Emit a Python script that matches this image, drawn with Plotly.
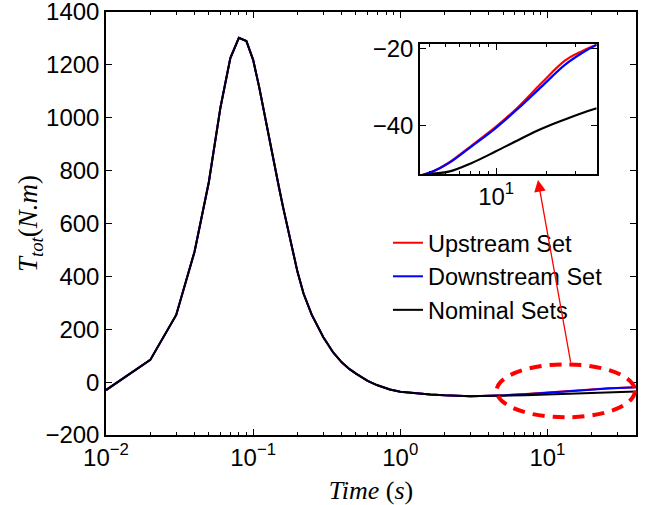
import plotly.graph_objects as go

# Total torque response shared by all three parameter sets (s, N.m)
time_common = [0.01, 0.02, 0.03, 0.04, 0.05, 0.06, 0.07, 0.08, 0.09, 0.10,
               0.11, 0.12, 0.13, 0.14, 0.15, 0.16, 0.17, 0.18, 0.19, 0.20,
               0.22, 0.25, 0.30, 0.35, 0.40, 0.45, 0.50, 0.60, 0.70, 0.85,
               1.0, 1.3, 1.6, 2.0, 2.5, 3.0, 3.5]
torque_common = [-30, 84, 254, 494, 757, 1040, 1226, 1302, 1290, 1219,
                 1115, 1005, 905, 815, 735, 660, 592, 528, 470, 418,
                 335, 255, 170, 112, 75, 50, 32, 5, -12, -28,
                 -36, -43, -47, -50, -52.3, -53.2, -52.9]

# Late-time behaviour where the sets separate
time_tail = [4.2, 5.2, 7.1, 9.9, 13.6, 18.7, 25.8, 32.5, 40]
torque_upstream_tail = [-51.8, -49.6, -45.2, -40.4, -35.1, -29.0, -23.2, -20.8, -19.1]
torque_downstream_tail = [-51.8, -49.7, -45.4, -40.7, -35.5, -29.9, -24.3, -21.3, -19.1]
torque_nominal_tail = [-52.4, -51.9, -49.7, -46.7, -43.7, -40.8, -38.4, -36.8, -35.5]

x_tick_vals = [0.01, 0.1, 1, 10]
x_tick_text = ["10<sup>−2</sup>", "10<sup>−1</sup>", "10<sup>0</sup>", "10<sup>1</sup>"]
y_tick_vals = [-200, 0, 200, 400, 600, 800, 1000, 1200, 1400]
y_tick_text = ["−200", "0", "200", "400", "600", "800", "1000", "1200", "1400"]
inset_x_tick_vals = [10]
inset_x_tick_text = ["10<sup>1</sup>"]
inset_y_tick_vals = [-40, -20]
inset_y_tick_text = ["−40", "−20"]

series = [
    ("Upstream Set", "#ff0000", torque_upstream_tail),
    ("Downstream Set", "#0000ff", torque_downstream_tail),
    ("Nominal Sets", "#000000", torque_nominal_tail),
]

t_all = time_common + time_tail
fig = go.Figure()
for name, color, tail in series:
    fig.add_trace(go.Scatter(x=t_all, y=torque_common + tail, mode="lines", name=name,
                             line=dict(color=color, width=2), xaxis="x", yaxis="y"))
for name, color, tail in series:
    fig.add_trace(go.Scatter(x=t_all, y=torque_common + tail, mode="lines", name=name,
                             line=dict(color=color, width=2.2, shape="spline", smoothing=1),
                             xaxis="x2", yaxis="y2", showlegend=False))

minor_vals = [m * 10 ** e for e in range(-2, 2) for m in range(2, 10)]
sans = "Liberation Sans, Arial, sans-serif"
serif = "Liberation Serif, Times New Roman, serif"
tick_font = dict(family=sans, size=24, color="black")

common_axis = dict(showline=True, linecolor="black", linewidth=1.5, mirror="ticks",
                   ticks="inside", ticklen=6, tickcolor="black", showgrid=False,
                   zeroline=False, tickfont=tick_font, automargin=False,
                   ticklabeloverflow="allow")
minor_ticks = dict(tickmode="array", tickvals=minor_vals, ticks="inside",
                   ticklen=3, tickcolor="black", showgrid=False)

fig.update_layout(
    width=650, height=505,
    margin=dict(l=106, r=14, t=12, b=70),
    paper_bgcolor="white", plot_bgcolor="white",
    font=tick_font,
    xaxis=dict(type="log", range=[-2, 1.60206], tickmode="array",
               tickvals=x_tick_vals, ticktext=x_tick_text, minor=minor_ticks,
               title=dict(text="<i>Time</i> (<i>s</i>)",
                          font=dict(family=serif, size=26, color="black"), standoff=11),
               **common_axis),
    yaxis=dict(range=[-200, 1400], tickmode="array", tickvals=y_tick_vals,
               ticktext=y_tick_text,
               title=dict(text="<i>T</i><sub><i>tot</i></sub>(<i>N.m</i>)",
                          font=dict(family=serif, size=27, color="black"), standoff=0),
               **common_axis),
    xaxis2=dict(type="log", range=[0.544, 1.60206], domain=[0.5925, 0.9258],
                anchor="y2", tickmode="array", tickvals=inset_x_tick_vals,
                ticktext=inset_x_tick_text, minor=minor_ticks, **common_axis),
    yaxis2=dict(range=[-52.5, -18.9], domain=[0.617, 0.9243], anchor="x2",
                tickmode="array", tickvals=inset_y_tick_vals, ticktext=inset_y_tick_text,
                **common_axis),
    legend=dict(x=0.532, y=0.506, xanchor="left", yanchor="top",
                bgcolor="rgba(0,0,0,0)", borderwidth=0,
                font=dict(family=sans, size=23.5, color="black"), tracegroupgap=0),
    showlegend=True,
)

# white backdrop for the inset axes
fig.add_shape(type="rect", xref="paper", yref="paper", x0=0.5925, x1=0.9258,
              y0=0.617, y1=0.9243, fillcolor="white", line=dict(width=0), layer="below")

# dashed ellipse marking the late-time region
fig.add_shape(type="circle", xref="paper", yref="paper", x0=0.737, x1=0.998,
              y0=0.0418, y1=0.167, line=dict(color="#ff0000", width=4, dash="12px,8px"))

# arrow pointing from the ellipse to the zoomed view
fig.add_annotation(xref="paper", yref="paper", x=0.815, y=0.603, ax=33, ay=184,
                   text="", showarrow=True, arrowhead=2, arrowsize=1.8, arrowwidth=1.3,
                   arrowcolor="#ff0000", standoff=0, startstandoff=0)

fig.write_html("out.html")
